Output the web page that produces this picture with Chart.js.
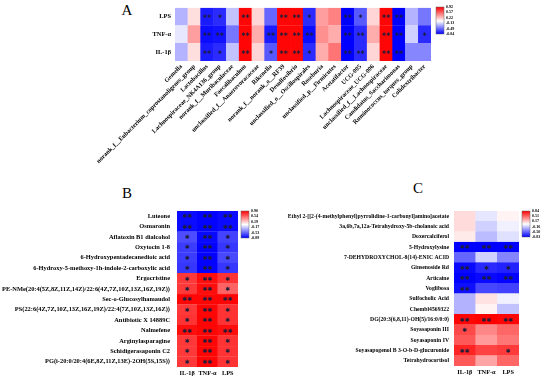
<!DOCTYPE html>
<html>
<head>
<meta charset="utf-8">
<script src="https://cdn.jsdelivr.net/npm/chart.js@4.4.0/dist/chart.umd.min.js"></script>
<style>
  body { margin: 0; background: #fff; width: 550px; height: 380px; overflow: hidden; position: relative; font-family: 'Liberation Serif', serif; }
  canvas { position: absolute; }
  .tag { position: absolute; font-size: 15px; line-height: 1; transform: translate(-50%, -50%); }
</style>
</head>
<body>
<div class="tag" style="left:127px;top:10px">A</div>
<div class="tag" style="left:127px;top:193px">B</div>
<div class="tag" style="left:418px;top:188px">C</div>
<canvas id="chartA" width="460" height="185" style="left:0;top:0"></canvas>
<canvas id="chartB" width="270" height="190" style="left:0;top:190px"></canvas>
<canvas id="chartC" width="280" height="190" style="left:270px;top:190px"></canvas>
<script>
// ---- Panel A: gut taxa vs. inflammatory markers
const taxaA = ['Gemella', 'norank_f__Eubacterium_coprostanoligenes_group', 'Lactobacillus',
  'Lachnospiraceae_NK4A136_group', 'norank_f__Muribaculaceae', 'Faecalibaculum',
  'unclassified_f__Anaerovoracaceae', 'Rikenella', 'norank_f__norank_o__RF39', 'Desulfovibrio',
  'unclassified_o__Oscillospirales', 'Roseburia', 'unclassified_p__Firmicutes', 'Acetatifactor',
  'UCG-005', 'Lachnospiraceae_UCG-006', 'unclassified_f__Lachnospiraceae',
  'Candidatus_Saccharimonas', 'Ruminococcus_torques_group', 'Colidextribacter'];
const rowsA = ['LPS', 'TNF-α', 'IL-1β'];
const lpsA = [-0.25, 0.12, -0.75, -0.7, -0.2, 0.9, 0.15, -0.5, 0.9, 0.9, -0.7, 0.35, 0.45, -0.84, -0.55, 0.15, 0.9, -0.84, -0.25, -0.45];
const tnfA = [-0.08, 0.35, -0.8, -0.78, -0.45, 0.9, 0.3, -0.75, 0.9, 0.9, -0.8, 0.4, 0.3, -0.84, -0.7, 0.3, 0.9, -0.84, -0.15, -0.7];
const ilA  = [-0.25, 0.12, -0.75, -0.7, -0.2, 0.9, 0.15, -0.55, 0.9, 0.9, -0.7, 0.3, 0.5, -0.84, -0.7, 0.15, 0.9, -0.84, -0.4, -0.4];
const lpsStarsA = ['', '', '**', '*', '', '**', '', '', '**', '**', '*', '', '', '**', '*', '', '**', '**', '', ''];
const tnfStarsA = ['', '', '**', '**', '', '**', '', '**', '**', '**', '**', '', '', '**', '**', '', '**', '**', '', '*'];
const ilStarsA  = ['', '', '**', '*', '', '**', '', '*', '**', '**', '*', '', '', '**', '**', '', '**', '**', '', ''];
const scaleA = ['0.92', '0.57', '0.22', '-0.13', '-0.49', '-0.84'];

// ---- Panel B: metabolites (set 1)
const markers = ['IL-1β', 'TNF-α', 'LPS'];
const rowsB = ['Luteone', 'Osmaronin', 'Aflatoxin B1 dialcohol', 'Oxytocin 1-8',
  '6-Hydroxypentadecanedioic acid', '6-Hydroxy-5-methoxy-1h-indole-2-carboxylic acid', 'Ergocristine',
  'PE-NMe(20:4(5Z,8Z,11Z,14Z)/22:6(4Z,7Z,10Z,13Z,16Z,19Z))', 'Sec-o-Glucosylhamaudol',
  'PS(22:6(4Z,7Z,10Z,13Z,16Z,19Z)/22:4(7Z,10Z,13Z,16Z))', 'Antibiotic X 14889C', 'Nalmefene',
  'Arginylasparagine', 'Schidigerasaponin C2', 'PG(i-20:0/20:4(6E,8Z,11Z,13E)-2OH(5S,15S))'];
const ilB  = [-0.85, -0.85, -0.62, -0.68, -0.68, -0.7, 0.7, 0.7, 0.88, 0.7, 0.72, 0.85, 0.7, 0.7, 0.7];
const tnfB = [-0.88, -0.88, -0.86, -0.88, -0.88, -0.88, 0.85, 0.85, 0.88, 0.88, 0.88, 0.88, 0.88, 0.88, 0.88];
const lpsB = [-0.85, -0.85, -0.66, -0.7, -0.64, -0.7, 0.72, 0.55, 0.88, 0.72, 0.72, 0.85, 0.72, 0.72, 0.72];
const ilStarsB  = ['**', '**', '*', '*', '*', '*', '*', '*', '**', '*', '*', '**', '*', '*', '*'];
const tnfStarsB = ['**', '**', '**', '**', '**', '**', '**', '**', '**', '**', '**', '**', '**', '**', '**'];
const lpsStarsB = ['**', '**', '*', '*', '*', '*', '*', '*', '**', '*', '*', '**', '*', '*', '*'];
const scaleB = ['0.90', '0.54', '0.19', '-0.17', '-0.53', '-0.89'];

// ---- Panel C: metabolites (set 2)
const rowsC = ['Ethyl 2-[[2-(4-methylphenyl)pyrrolidine-1-carbonyl]amino]acetate',
  '3a,6b,7a,12a-Tetrahydroxy-5b-cholanoic acid', 'Doxercalciferol', '5-Hydroxylysine',
  '7-DEHYDROXYCHOL-8(14)-ENIC ACID', 'Ginsenoside Rd', 'Articaine', 'Voglibosa', 'Sulfocholic Acid',
  'Chembl4569322', 'DG(20:3(6,8,11)-OH(5)/16:0/0:0)', 'Soyasaponin III', 'Soyasaponin IV',
  'Soyasapogenol B 3-O-b-D-glucuronide', 'Tetrahydrocortisol'];
const ilC  = [0.12, 0.12, 0.07, -0.83, -0.5, -0.8, -0.83, -0.78, -0.25, -0.25, 0.82, 0.6, 0.55, 0.72, 0.55];
const tnfC = [-0.08, -0.15, -0.22, -0.83, -0.15, -0.7, -0.8, -0.6, 0.1, 0.04, 0.84, 0.4, 0.33, 0.62, 0.3];
const lpsC = [0.04, -0.05, -0.1, -0.83, -0.4, -0.72, -0.82, -0.62, -0.05, -0.2, 0.82, 0.5, 0.45, 0.65, 0.5];
const ilStarsC  = ['', '', '', '**', '', '**', '**', '**', '', '', '**', '*', '', '**', ''];
const tnfStarsC = ['', '', '', '**', '', '*', '**', '', '', '', '**', '', '', '', ''];
const lpsStarsC = ['', '', '', '**', '', '*', '**', '', '', '', '**', '', '', '*', ''];
const scaleC = ['0.84', '0.51', '0.17', '-0.16', '-0.50', '-0.83'];

function cellColor(v, lo, hi) {
  if (v >= 0) {
    const t = Math.min(v / hi, 1), c = Math.round(255 * (1 - t));
    return `rgb(255,${c},${c})`;
  }
  const t = Math.min(v / lo, 1), c = Math.round(255 * (1 - t));
  return `rgb(${c},${c},255)`;
}

// asterisks in the middle of each cell
const starPlugin = {
  id: 'stars',
  afterDatasetsDraw(chart, args, opts) {
    const ctx = chart.ctx;
    ctx.save();
    ctx.fillStyle = '#1d1d3a';
    ctx.textAlign = 'center';
    ctx.textBaseline = 'middle';
    ctx.font = opts.font;
    chart.data.datasets.forEach((ds, i) => {
      chart.getDatasetMeta(i).data.forEach((bar, j) => {
        const s = ds.stars[j];
        if (!s) return;
        const p = bar.getCenterPoint();
        ctx.fillText(s.replace(/\*/g, '✱'), p.x, p.y + 0.5);
      });
    });
    ctx.restore();
  }
};

// little colour key on the right
const colorbarPlugin = {
  id: 'colorbar',
  afterDraw(chart, args, o) {
    const ctx = chart.ctx;
    const hi = parseFloat(o.labels[0]), lo = parseFloat(o.labels[o.labels.length - 1]);
    ctx.save();
    const g = ctx.createLinearGradient(0, o.y, 0, o.y + o.h);
    g.addColorStop(0, '#ff0000');
    g.addColorStop(hi / (hi - lo), '#ffffff');
    g.addColorStop(1, '#0000ff');
    ctx.fillStyle = g;
    ctx.fillRect(o.x, o.y, o.w, o.h);
    ctx.strokeStyle = '#666';
    ctx.lineWidth = 0.5;
    ctx.strokeRect(o.x, o.y, o.w, o.h);
    ctx.fillStyle = '#000';
    ctx.font = 'bold 4px "Liberation Serif"';
    ctx.textAlign = 'left';
    ctx.textBaseline = 'middle';
    o.labels.forEach((t, k) => {
      ctx.fillText(t, o.x + o.w + 2, o.y + k * o.h / (o.labels.length - 1));
    });
    ctx.restore();
  }
};

function heatmap(id, o) {
  const N = o.rows.length;
  const lo = parseFloat(o.bar.labels[o.bar.labels.length - 1]), hi = parseFloat(o.bar.labels[0]);
  const datasets = o.rows.map((r, i) => ({
    label: r,
    data: o.cols.map(() => 1),
    backgroundColor: o.values[i].map(v => cellColor(v, lo, hi)),
    borderColor: o.values[i].map(v => cellColor(v, lo, hi)),
    borderWidth: 0.3,
    stars: o.stars[i],
    barPercentage: 1,
    categoryPercentage: 1
  })).reverse();
  return new Chart(document.getElementById(id), {
    type: 'bar',
    data: { labels: o.cols, datasets },
    options: {
      responsive: false,
      animation: false,
      layout: { padding: { top: o.top, right: o.right, left: 0, bottom: 0 } },
      plugins: {
        legend: { display: false },
        tooltip: { enabled: false },
        stars: { font: o.starFont },
        colorbar: o.bar
      },
      scales: {
        x: {
          stacked: true,
          grid: { display: false, drawTicks: false },
          border: { display: false },
          ticks: {
            autoSkip: false, maxRotation: o.rot, minRotation: o.rot, padding: o.xpad, color: '#000',
            font: { family: 'Liberation Serif', weight: 'bold', size: o.xsize }
          },
          afterFit: s => { s.height = o.xh; }
        },
        y: {
          stacked: true, min: 0, max: N,
          grid: { display: false, drawTicks: false },
          border: { display: false },
          afterBuildTicks: s => { s.ticks = o.rows.map((_, i) => ({ value: i + 0.5 })); },
          ticks: {
            padding: o.ypad, color: '#000',
            font: { family: 'Liberation Serif', weight: 'bold', size: o.ysize },
            callback: v => o.rows[N - 1 - Math.floor(v)]
          },
          afterFit: s => { s.width = o.yw; }
        }
      }
    },
    plugins: [starPlugin, colorbarPlugin]
  });
}

heatmap('chartA', {
  cols: taxaA, rows: rowsA,
  values: [lpsA, tnfA, ilA],
  stars: [lpsStarsA, tnfStarsA, ilStarsA],
  top: 7, right: 29, yw: 175, xh: 124, rot: 45, xpad: 2, xsize: 6.3, ysize: 6.4, ypad: 4,
  starFont: '5px "DejaVu Sans"',
  bar: { x: 436, y: 7, w: 8, h: 27, labels: scaleA }
});

heatmap('chartB', {
  cols: markers, rows: rowsB,
  values: rowsB.map((_, i) => [ilB[i], tnfB[i], lpsB[i]]),
  stars: rowsB.map((_, i) => [ilStarsB[i], tnfStarsB[i], lpsStarsB[i]]),
  top: 21, right: 32, yw: 177, xh: 13, rot: 0, xpad: 3, xsize: 6.3, ysize: 6.4, ypad: 7,
  starFont: '6px "DejaVu Sans"',
  bar: { x: 241, y: 21, w: 8, h: 27, labels: scaleB }
});

heatmap('chartC', {
  cols: markers, rows: rowsC,
  values: rowsC.map((_, i) => [ilC[i], tnfC[i], lpsC[i]]),
  stars: rowsC.map((_, i) => [ilStarsC[i], tnfStarsC[i], lpsStarsC[i]]),
  top: 21, right: 31, yw: 184, xh: 14, rot: 0, xpad: 3, xsize: 6.3, ysize: 5.7, ypad: 5,
  starFont: '6px "DejaVu Sans"',
  bar: { x: 252, y: 21, w: 8, h: 26, labels: scaleC }
});
</script>
</body>
</html>
